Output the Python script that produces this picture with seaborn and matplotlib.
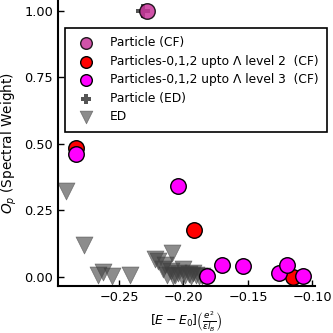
import matplotlib
matplotlib.use("Agg")
import matplotlib.pyplot as plt
import seaborn as sns

# Particle (CF)
particle_cf_x = [-0.2283]
particle_cf_y = [1.0]

# Particles-0,1,2 upto Lambda level 2 (CF)
lvl2_x = [-0.2836, -0.1919, -0.1149]
lvl2_y = [0.485, 0.175, -0.002]

# Particles-0,1,2 upto Lambda level 3 (CF)
lvl3_x = [-0.2836, -0.2045, -0.182, -0.1705, -0.1536, -0.1257, -0.120, -0.1076]
lvl3_y = [0.460, 0.340, 0.004, 0.044, 0.040, 0.013, 0.044, 0.003]

# Particle (ED)
particle_ed_x = [-0.2310]
particle_ed_y = [1.0]

# ED
ed_x = [-0.291, -0.277, -0.266, -0.262, -0.2557, -0.2415, -0.222, -0.2195,
        -0.2143, -0.2092, -0.213, -0.2066, -0.2002, -0.1988, -0.1924, -0.210,
        -0.204, -0.196, -0.194, -0.190, -0.188, -0.186, -0.201, -0.208, -0.216]
ed_y = [0.322, 0.119, 0.006, 0.019, 0.003, 0.006, 0.065, 0.060,
        0.044, 0.088, 0.006, 0.006, 0.028, 0.006, 0.013, 0.020,
        0.015, 0.010, 0.004, 0.008, 0.003, 0.002, 0.004, 0.003, 0.030]

sns.set_style("ticks")
plt.rcParams['font.family'] = ['DejaVu Sans']
plt.rcParams['font.size'] = 9
plt.rcParams['text.color'] = 'black'
plt.rcParams['axes.labelcolor'] = 'black'

fig, ax = plt.subplots(figsize=(3.33, 3.33), dpi=100)
fig.subplots_adjust(left=0.174, right=0.946, bottom=0.141, top=0.998)

size = 125
sns.scatterplot(x=particle_cf_x, y=particle_cf_y, ax=ax, s=size, marker='o',
                color='#c8359a', edgecolor='black', linewidth=1, alpha=0.85,
                label='Particle (CF)', zorder=4)
sns.scatterplot(x=lvl2_x, y=lvl2_y, ax=ax, s=size, marker='o',
                color='red', edgecolor='black', linewidth=1,
                label='Particles-0,1,2 upto Λ level 2  (CF)', zorder=3)
sns.scatterplot(x=lvl3_x, y=lvl3_y, ax=ax, s=size, marker='o',
                color='magenta', edgecolor='black', linewidth=1,
                label='Particles-0,1,2 upto Λ level 3  (CF)', zorder=3)
sns.scatterplot(x=particle_ed_x, y=particle_ed_y, ax=ax, s=110, marker='P',
                color='#2a2a2a', edgecolor='#2a2a2a', linewidth=0, alpha=0.8,
                label='Particle (ED)', zorder=3.5)
sns.scatterplot(x=ed_x, y=ed_y, ax=ax, s=150, marker='v',
                color='#404040', edgecolor='#404040', linewidth=0.5, alpha=0.6,
                label='ED', zorder=2)

ax.set_xlim(-0.2973, -0.098)
ax.set_ylim(-0.035, 1.037)
ax.set_xticks([-0.25, -0.20, -0.15, -0.10])
ax.set_yticks([0.0, 0.25, 0.5, 0.75, 1.0])
ax.tick_params(direction='in', length=4, width=1, colors='black', labelsize=9.3)
for side in ['left', 'bottom']:
    ax.spines[side].set_linewidth(1.5)
    ax.spines[side].set_color('black')
sns.despine(ax=ax)

ax.set_xlabel(r'$[E-E_0]\left(\frac{e^2}{\epsilon l_B}\right)$', fontsize=9)
ax.set_ylabel(r'$O_p$ (Spectral Weight)', fontsize=9.8)

leg = ax.legend(loc='upper left', bbox_to_anchor=(0.027, 0.905),
                borderaxespad=0, fontsize=8.8, markerscale=0.75,
                fancybox=False, edgecolor='black', framealpha=1,
                labelcolor='black',
                borderpad=0.7, handletextpad=1.0, labelspacing=0.45)
leg.get_frame().set_linewidth(1.2)

fig.savefig('out.png', dpi=100)
